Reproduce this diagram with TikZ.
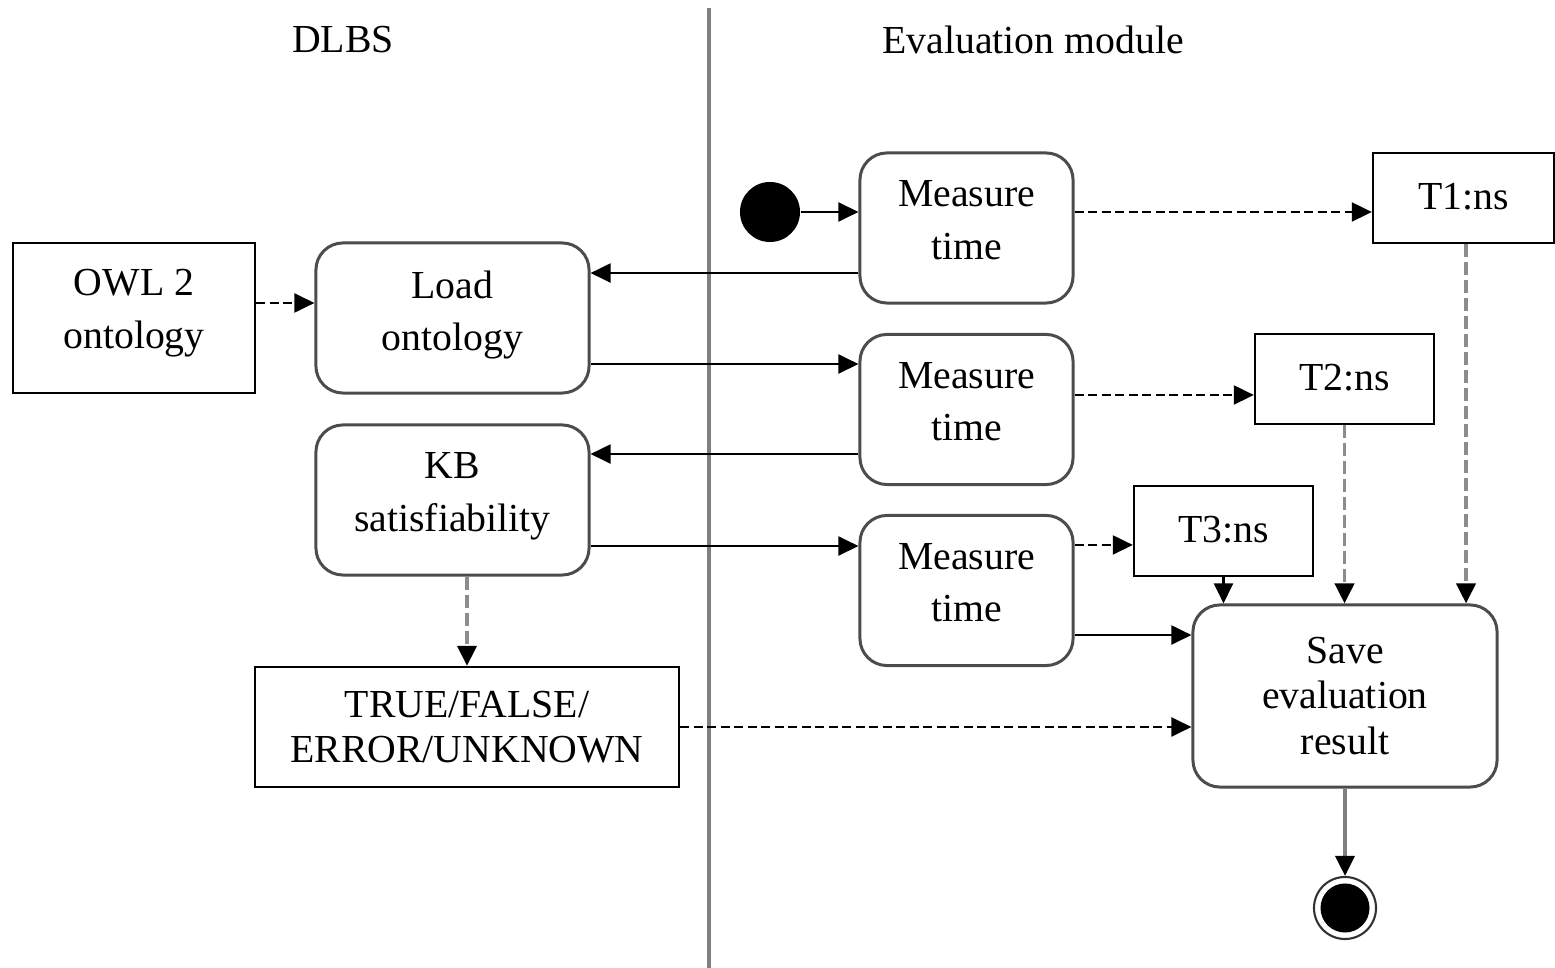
\documentclass[tikz,border=0pt]{standalone}
\usepackage{fontspec}
\setmainfont{Liberation Serif}
\usetikzlibrary{arrows.meta}

\begin{document}
\begin{tikzpicture}[x=0.01cm, y=-0.01cm,
    font=\fontsize{11.3}{15}\selectfont,
    activity/.style={draw=black!70, line width=0.85pt, rounded corners=0.27cm,
      minimum width=2.13cm, minimum height=1.5cm, inner sep=0pt},
    object/.style={draw=black, line width=0.65pt, minimum width=1.8cm,
      minimum height=0.9cm, inner sep=0pt},
    caption/.style={align=center, anchor=north, inner sep=0pt, yshift=-0.285cm},
    flow/.style={draw=black, line width=0.6pt,
      -{Triangle[length=0.2cm, width=0.19cm, color=black]}},
    objflow/.style={flow, dash pattern=on 0.09cm off 0.045cm},
    greyflow/.style={flow, draw=black!45, line width=1.1pt,
      dash pattern=on 0.13cm off 0.05cm},
    initial/.style={circle, fill=black, minimum size=0.6cm, inner sep=0pt},
    final/.style={circle, draw=black!80, line width=0.6pt, minimum size=0.62cm,
      inner sep=0pt, path picture={\fill[black] (path picture bounding box.center) circle (0.245cm);}}]
    \useasboundingbox (0,0) rectangle (1555,968);

    \draw[draw=black!50, line width=1pt] (709,8) -- (709,968);
    \node (dlbs) at (343,40) {DLBS};
    \node (evalmod) at (1033,40) {Evaluation module};

    \node[initial] (start) at (770,212) {};
    \node[activity, label={[caption]north:Measure\\time}] (mt1) at (966.5,228) {};
    \node[activity, label={[caption]north:Measure\\time}] (mt2) at (966.5,409.5) {};
    \node[activity, label={[caption]north:Measure\\time}] (mt3) at (966.5,590.5) {};
    \node[object, minimum width=1.81cm, label={[caption, yshift=-0.02cm]north:T1:ns}] (t1) at (1463.5,198) {};
    \node[object, minimum width=1.79cm, label={[caption, yshift=-0.02cm]north:T2:ns}] (t2) at (1344.5,379) {};
    \node[object, minimum width=1.79cm, label={[caption, yshift=-0.02cm]north:T3:ns}] (t3) at (1223.5,531) {};

    \node[object, minimum width=2.42cm, minimum height=1.5cm,
      label={[caption, yshift=0.02cm]north:OWL 2\\ontology}] (owl) at (134,318) {};
    \node[activity, minimum width=2.73cm, label={[caption]north:Load\\ontology}] (load) at (452.5,318) {};
    \node[activity, minimum width=2.73cm, label={[caption]north:KB\\satisfiability}] (kb) at (452.5,500) {};
    \node[object, minimum width=4.24cm, minimum height=1.2cm,
      label={[caption, yshift=0.035cm, font=\fontsize{11.3}{12.8}\selectfont]north:TRUE/FALSE/\\ERROR/UNKNOWN}] (result) at (467,727) {};
    \node[activity, minimum width=3.04cm, minimum height=1.82cm,
      label={[caption, yshift=-0.05cm, font=\fontsize{11.3}{12.8}\selectfont]north:Save\\evaluation\\result}] (save) at (1345,696) {};
    \node[final] (stop) at (1345,908) {};

    \draw[flow] (start) -- (start -| mt1.west);
    \draw[objflow] (mt1.east |- start) -- (t1.west |- start);
    \draw[flow] ([yshift=-0.45cm]mt1.west) -- ([yshift=-0.45cm]mt1.west -| load.east);
    \draw[objflow] ([yshift=0.15cm]owl.east) -- ([yshift=0.15cm]owl.east -| load.west);
    \draw[flow] ([yshift=-0.46cm]load.east) -- ([yshift=-0.46cm]load.east -| mt2.west);
    \draw[objflow] ([yshift=0.145cm]mt2.east) -- ([yshift=0.145cm]mt2.east -| t2.west);
    \draw[flow] ([yshift=-0.445cm]mt2.west) -- ([yshift=-0.445cm]mt2.west -| kb.east);
    \draw[flow] ([yshift=-0.46cm]kb.east) -- ([yshift=-0.46cm]kb.east -| mt3.west);
    \draw[objflow] ([yshift=0.455cm]mt3.east) -- ([yshift=0.455cm]mt3.east -| t3.west);
    \draw[flow] ([yshift=-0.445cm]mt3.east) -- ([yshift=-0.445cm]mt3.east -| save.west);
    \draw[flow] (t3.south) -- (t3.south |- save.north);
    \draw[greyflow] (t2.south) -- (t2.south |- save.north);
    \draw[greyflow] ([xshift=0.025cm]t1.south) -- ([xshift=0.025cm]t1.south |- save.north);
    \draw[greyflow] (result.north |- kb.south) -- (result.north);
    \draw[objflow] (result.east) -- (result.east -| save.west);
    \draw[flow, draw=black!50, line width=1pt] (save.south) -- (stop.north);
\end{tikzpicture}
\end{document}
